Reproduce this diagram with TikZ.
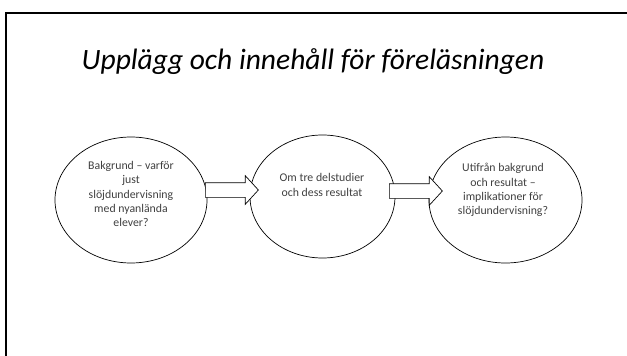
\documentclass[tikz,border=0pt]{standalone}
\usepackage{fontspec}
\setmainfont{Carlito}
\usetikzlibrary{shapes.geometric,shapes.arrows}
\definecolor{txt}{rgb}{0.25,0.25,0.25}
\tikzset{
  bubble/.style={ellipse, draw=black, line width=0.7pt, inner sep=0pt},
  bubbletext/.style={text=txt, align=center, font=\fontsize{11.8}{14.2}\selectfont},
  blockarrow/.style={single arrow, draw=black, line width=0.7pt, fill=white,
    minimum height=53pt, single arrow head extend=7pt,
    single arrow tip angle=95, inner sep=0pt, outer sep=0pt}
}
\begin{document}
\begin{tikzpicture}[x=1pt,y=-1pt]
\useasboundingbox (0,0) rectangle (627,356);
\fill[white] (0,0) rectangle (627,356);
% frame
\draw[line width=2pt] (5.5,356) -- (5.5,12.5) -- (627,12.5);
% title
\node (title) at (313,62) {\fontsize{29.5}{34}\selectfont\itshape Upplägg och innehåll för föreläsningen};
% ellipses
\node[bubble, minimum width=152pt, minimum height=126pt] (e1) at (131,200) {};
\node[bubble, minimum width=145pt, minimum height=123pt] (e2) at (322.5,196.5) {};
\node[bubble, minimum width=153pt, minimum height=126pt] (e3) at (505.5,200) {};
% texts
\node[bubbletext] (t1) at (131,194) {Bakgrund – varför\\just\\slöjdundervisning\\med nyanlända\\elever?};
\node[bubbletext] (t2) at (322,185) {Om tre delstudier\\och dess resultat};
\node[bubbletext] (t3) at (503,190) {Utifrån bakgrund\\och resultat –\\implikationer för\\slöjdundervisning?};
% arrows
\node[blockarrow] (a1) at (228.5,190) {\rule{0pt}{14pt}};
\node[blockarrow] (a2) at (412.5,191) {\rule{0pt}{14pt}};
\end{tikzpicture}
\end{document}
